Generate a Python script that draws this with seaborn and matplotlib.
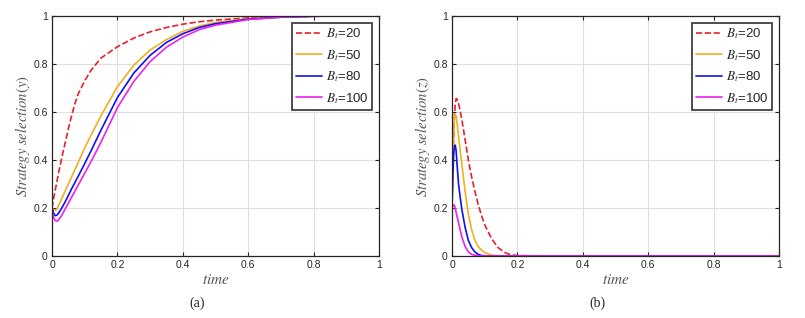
import matplotlib
matplotlib.use("Agg")
import matplotlib.pyplot as plt
import seaborn as sns

# ==========================================
# DATA
# ==========================================

budget_labels = ["20", "50", "80", "100"]
line_colors = ["#e8202a", "#f0b020", "#1010f0", "#f020f0"]

# panel (a): strategy selection y
time_a = [0, 0.005, 0.01, 0.015, 0.02, 0.03, 0.04, 0.05, 0.06, 0.07, 0.08,
          0.1, 0.12, 0.15, 0.2, 0.25, 0.3, 0.35, 0.4, 0.45, 0.5, 0.6, 0.7,
          0.8, 0.9, 1.0]
y_b20 = [0.20, 0.24, 0.275, 0.31, 0.345, 0.41, 0.47, 0.53, 0.585, 0.635,
         0.675, 0.73, 0.775, 0.825, 0.872, 0.908, 0.934, 0.952, 0.966, 0.976,
         0.983, 0.992, 0.997, 0.999, 1.0, 1.0]
y_b50 = [0.20, 0.193, 0.19, 0.195, 0.21, 0.24, 0.27, 0.30, 0.33, 0.36,
         0.39, 0.45, 0.505, 0.585, 0.705, 0.795, 0.858, 0.902, 0.936, 0.958,
         0.973, 0.989, 0.996, 0.999, 1.0, 1.0]
y_b80 = [0.20, 0.178, 0.168, 0.17, 0.178, 0.2, 0.225, 0.252, 0.28, 0.306,
         0.332, 0.385, 0.44, 0.525, 0.66, 0.762, 0.836, 0.89, 0.926, 0.952,
         0.968, 0.987, 0.995, 0.999, 1.0, 1.0]
y_b100 = [0.19, 0.16, 0.147, 0.145, 0.15, 0.17, 0.195, 0.22, 0.245, 0.27,
          0.295, 0.345, 0.395, 0.475, 0.618, 0.727, 0.81, 0.87, 0.912, 0.943,
          0.962, 0.985, 0.995, 0.999, 1.0, 1.0]

# panel (b): strategy selection z
time_b = [0, 0.0025, 0.005, 0.0075, 0.01, 0.0125, 0.015, 0.02, 0.025, 0.03,
          0.04, 0.05, 0.06, 0.07, 0.08, 0.09, 0.1, 0.12, 0.14, 0.16, 0.18,
          0.2, 0.3, 0.5, 1.0]
z_b20 = [0.2, 0.36, 0.49, 0.58, 0.635, 0.655, 0.655, 0.635, 0.605, 0.57,
         0.485, 0.40, 0.33, 0.27, 0.215, 0.17, 0.13, 0.075, 0.036, 0.015,
         0.005, 0.002, 0, 0, 0]
z_b50 = [0.2, 0.39, 0.51, 0.575, 0.59, 0.583, 0.56, 0.5, 0.44, 0.385, 0.27,
         0.175, 0.11, 0.065, 0.04, 0.025, 0.014, 0.004, 0.001, 0, 0, 0, 0, 0,
         0]
z_b80 = [0.2, 0.33, 0.42, 0.458, 0.462, 0.44, 0.39, 0.30, 0.245, 0.195,
         0.12, 0.065, 0.035, 0.017, 0.007, 0.002, 0.001, 0, 0, 0, 0, 0, 0, 0,
         0]
z_b100 = [0.2, 0.21, 0.213, 0.21, 0.198, 0.183, 0.167, 0.14, 0.108, 0.08,
          0.04, 0.017, 0.007, 0.003, 0.001, 0, 0, 0, 0, 0, 0, 0, 0, 0, 0]

# ==========================================
# STYLE
# ==========================================

sns.set_theme(style="ticks")
plt.rcParams["font.family"] = ["Liberation Sans", "DejaVu Sans"]
plt.rcParams["mathtext.fontset"] = "stix"

fig = plt.figure(figsize=(8.05, 3.18), dpi=100)

ax_a = fig.add_axes([52 / 805, 62 / 318, 327 / 805, 240 / 318])
ax_b = fig.add_axes([452 / 805, 62 / 318, 327 / 805, 240 / 318])


def draw_panel(ax, time, series, ylabel, caption, caption_x):

    for values, label, color in zip(series, budget_labels, line_colors):

        sns.lineplot(
            x=time,
            y=values,
            ax=ax,
            color=color,
            linewidth=1.2,
            linestyle="--" if label == "20" else "-",
            label=r"$B_t$=" + label,
            sort=False
        )

    ax.set_xlim(0, 1)
    ax.set_ylim(0, 1)
    ax.set_xticks([0, 0.2, 0.4, 0.6, 0.8, 1])
    ax.set_yticks([0, 0.2, 0.4, 0.6, 0.8, 1])
    ax.set_xticklabels(["0", "0.2", "0.4", "0.6", "0.8", "1"])
    ax.set_yticklabels(["0", "0.2", "0.4", "0.6", "0.8", "1"])

    ax.grid(True, color="#dedede", linewidth=0.8)
    ax.set_axisbelow(True)

    ax.tick_params(
        direction="in",
        length=3,
        width=0.8,
        top=True,
        right=True,
        labelsize=7.5,
        colors="#262626",
        pad=3
    )

    for spine in ax.spines.values():
        spine.set_visible(True)
        spine.set_color("#262626")
        spine.set_linewidth(0.9)

    ax.set_xlabel(r"$time$", fontsize=11, color="#555555", labelpad=2)
    ax.set_ylabel(ylabel, fontsize=10.5, color="#555555", labelpad=1)

    legend = ax.legend(
        loc="upper right",
        bbox_to_anchor=(0.98, 0.972),
        fontsize=9.5,
        frameon=True,
        fancybox=False,
        edgecolor="#404040",
        handlelength=2.0,
        labelspacing=0.5,
        borderpad=0.3,
        handletextpad=0.25,
        borderaxespad=0.0
    )
    legend.get_frame().set_linewidth(1.3)
    legend.get_frame().set_alpha(1)

    fig.text(
        caption_x,
        0.045,
        caption,
        ha="center",
        va="center",
        fontsize=10,
        family=["Liberation Serif", "DejaVu Serif"]
    )


draw_panel(
    ax_a,
    time_a,
    [y_b20, y_b50, y_b80, y_b100],
    r"$Strategy\ selection(y)$",
    "(a)",
    197 / 805
)

draw_panel(
    ax_b,
    time_b,
    [z_b20, z_b50, z_b80, z_b100],
    r"$Strategy\ selection(z)$",
    "(b)",
    597 / 805
)

fig.savefig("out.png", dpi=100)
